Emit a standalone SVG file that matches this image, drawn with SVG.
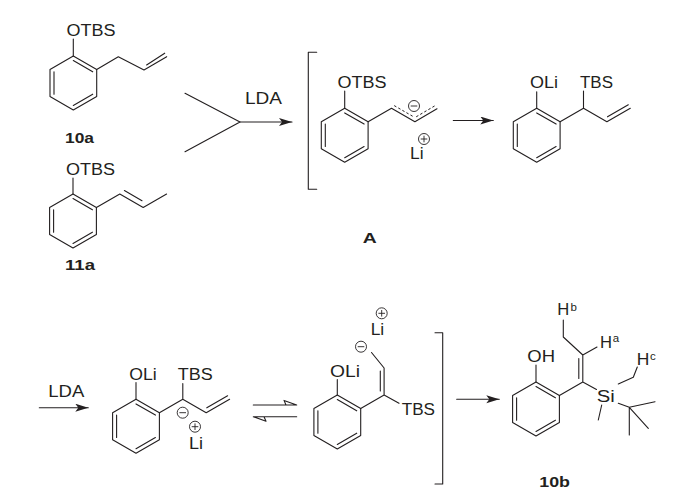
<svg xmlns="http://www.w3.org/2000/svg" xmlns:xlink="http://www.w3.org/1999/xlink" width="696" height="499" viewBox="0 0 696 499">
<style>
.b{fill:none;stroke:#231f20;stroke-width:1.1;stroke-linecap:round;stroke-linejoin:round}
.d{fill:none;stroke:#231f20;stroke-width:1;stroke-dasharray:2.5,2.2}
.t{font-family:"Liberation Sans",Arial,sans-serif;font-size:16px;fill:#231f20}
.s{font-family:"Liberation Sans",Arial,sans-serif;font-size:11.5px;fill:#231f20}
.l{font-family:"Liberation Sans",Arial,sans-serif;font-size:15px;font-weight:bold;fill:#231f20}
.c{fill:none;stroke:#231f20;stroke-width:0.9}
</style>
<defs>
<marker id="ah" markerUnits="userSpaceOnUse" markerWidth="14" markerHeight="9" refX="13" refY="4" orient="auto">
<path d="M0,0 L13,4 L0,8 L3,4 Z" fill="#231f20"/>
</marker>
<g id="neg"><circle class="c" r="5.5"/><line class="c" x1="-3.3" y1="0" x2="3.3" y2="0"/></g>
<g id="pos"><circle class="c" r="5.5"/><line class="c" x1="-3.3" y1="0" x2="3.3" y2="0"/><line class="c" x1="0" y1="-3.3" x2="0" y2="3.3"/></g>
</defs>
<rect width="696" height="499" fill="#fff"/>

<g id="m10a">
<path class="b" d="M73.3,56 L96.7,69.5 L96.7,96.5 L73.3,110 L50,96.5 L50,69.5 Z"/>
<path class="b" d="M73.3,60.6 L92.7,71.8 M92.7,94.2 L73.3,105.4 M54,94.2 L54,71.8"/>
<path class="b" d="M73.3,56 L73.3,39 M96.7,69.5 L118.3,56.7 L144,70 L166.7,56.7 M146.6,65 L164.7,53.2"/>
<text class="t" x="66.5" y="36" textLength="49" lengthAdjust="spacingAndGlyphs">OTBS</text>
<text class="l" x="65" y="143" textLength="29" lengthAdjust="spacingAndGlyphs">10a</text>
</g>

<g id="m11a">
<path class="b" d="M73,194 L96.4,207.5 L96.4,234.5 L73,248 L49.6,234.5 L49.6,207.5 Z"/>
<path class="b" d="M73,198.6 L92.4,209.8 M92.4,232.2 L73,243.4 M53.6,232.2 L53.6,209.8"/>
<path class="b" d="M73,194 L73,178 M96.4,207.5 L119.8,194 L143.2,207.5 L166.6,194 M124.4,190.5 L142,200.7"/>
<text class="t" x="66" y="175" textLength="49" lengthAdjust="spacingAndGlyphs">OTBS</text>
<text class="l" x="65" y="270" textLength="30" lengthAdjust="spacingAndGlyphs">11a</text>
</g>

<g id="intA">
<path class="b" d="M316.7,52.3 H308.3 V189.3 H316.7"/>
<path class="b" d="M344.7,108.3 L368.1,121.8 L368.1,148.8 L344.7,162.3 L321.3,148.8 L321.3,121.8 Z"/>
<path class="b" d="M344.7,112.9 L364.1,124.1 M364.1,146.5 L344.7,157.7 M325.3,146.5 L325.3,124.1"/>
<path class="b" d="M344.7,108.3 L344.7,91 M368.1,121.8 L391.5,108.3 L414.9,121.8 L437,108.8"/>
<path class="d" d="M394.2,105.6 L413.6,116.8 M416.2,116.8 L435.2,105.6"/>
<use xlink:href="#neg" href="#neg" x="414" y="106"/>
<use xlink:href="#pos" href="#pos" x="424" y="139"/>
<text class="t" x="337.5" y="88.3" textLength="49" lengthAdjust="spacingAndGlyphs">OTBS</text>
<text class="t" x="410" y="158.5" textLength="13.5" lengthAdjust="spacingAndGlyphs">Li</text>
<text class="l" x="362.7" y="243.3" font-size="16" textLength="14" lengthAdjust="spacingAndGlyphs">A</text>
</g>

<g id="p1">
<path class="b" d="M536.7,108.3 L560.1,121.8 L560.1,148.8 L536.7,162.3 L513.3,148.8 L513.3,121.8 Z"/>
<path class="b" d="M536.7,112.9 L556.1,124.1 M556.1,146.5 L536.7,157.7 M517.3,146.5 L517.3,124.1"/>
<path class="b" d="M536.7,108.3 L536.7,91.7 M560.1,121.8 L583.5,108.3 L583.5,91 M583.5,108.3 L606.9,121.8 L630.3,108.3 M607.5,116.8 L628.3,104.8"/>
<text class="t" x="530" y="88.3" textLength="28" lengthAdjust="spacingAndGlyphs">OLi</text>
<text class="t" x="580" y="88.3" textLength="33" lengthAdjust="spacingAndGlyphs">TBS</text>
</g>

<g id="p2">
<path class="b" d="M136,399.3 L159.4,412.8 L159.4,439.8 L136,453.3 L112.6,439.8 L112.6,412.8 Z"/>
<path class="b" d="M136,403.9 L155.4,415.1 M155.4,437.5 L136,448.7 M116.6,437.5 L116.6,415.1"/>
<path class="b" d="M136,399.3 L136,382.5 M159.4,412.8 L182.8,399.3 L182.8,383.5 M182.8,399.3 L206.2,412.8 L229.6,399.3 M206.8,407.8 L227.6,395.8"/>
<use xlink:href="#neg" href="#neg" x="182.7" y="412.7"/>
<use xlink:href="#pos" href="#pos" x="195" y="426.7"/>
<text class="t" x="129.3" y="380" textLength="27.4" lengthAdjust="spacingAndGlyphs">OLi</text>
<text class="t" x="177.7" y="380" textLength="35" lengthAdjust="spacingAndGlyphs">TBS</text>
<text class="t" x="189" y="449.3" textLength="14" lengthAdjust="spacingAndGlyphs">Li</text>
</g>

<g id="p3">
<path class="b" d="M337.3,395 L360.7,408.5 L360.7,435.5 L337.3,449 L313.9,435.5 L313.9,408.5 Z"/>
<path class="b" d="M337.3,399.6 L356.7,410.8 M356.7,433.2 L337.3,444.4 M317.9,433.2 L317.9,410.8"/>
<path class="b" d="M337.3,395 L337.3,379.5 M360.7,408.5 L384.1,395 L399,403.3 M384.1,395 L384.1,368 L371.5,352.5 M380.3,391 L380.3,371"/>
<use xlink:href="#neg" href="#neg" x="361" y="346.7"/>
<use xlink:href="#pos" href="#pos" x="381.7" y="313.3"/>
<text class="t" x="330" y="377.3" textLength="30" lengthAdjust="spacingAndGlyphs">OLi</text>
<text class="t" x="401.7" y="415" textLength="33.3" lengthAdjust="spacingAndGlyphs">TBS</text>
<text class="t" x="370.7" y="335" textLength="13.5" lengthAdjust="spacingAndGlyphs">Li</text>
<path class="b" d="M435,332.7 H442.7 V484 H435"/>
</g>

<g id="m10b">
<path class="b" d="M536,382 L559.4,395.5 L559.4,422.5 L536,436 L512.6,422.5 L512.6,395.5 Z"/>
<path class="b" d="M536,386.6 L555.4,397.8 M555.4,420.2 L536,431.4 M516.6,420.2 L516.6,397.8"/>
<path class="b" d="M536,382 L536,365 M559.4,395.5 L582.8,382 L582.8,355 L597,347 M582.8,355 L563.3,337 L563.3,320 M578.8,378.5 L578.8,358.5 M582.8,382 L596.5,389.5"/>
<path class="b" d="M618.3,384 L633.3,377.3 L637.3,367 M601.7,405 L598.3,420 M618.3,403.3 L629.3,407.3 L655,401.7 M629.3,407.3 L648.3,428.3 M629.3,407.3 L629.3,435"/>
<text class="t" x="527.3" y="361.7" textLength="27.7" lengthAdjust="spacingAndGlyphs">OH</text>
<text class="t" x="596.7" y="402" textLength="18" lengthAdjust="spacingAndGlyphs">Si</text>
<text class="t" x="600" y="348.3" textLength="12" lengthAdjust="spacingAndGlyphs">H</text>
<text class="s" x="612.7" y="342">a</text>
<text class="t" x="557.3" y="315" textLength="12" lengthAdjust="spacingAndGlyphs">H</text>
<text class="s" x="570.5" y="311">b</text>
<text class="t" x="636.7" y="365" textLength="12.6" lengthAdjust="spacingAndGlyphs">H</text>
<text class="s" x="650" y="359.5">c</text>
<text class="l" x="539.3" y="486.7" textLength="30.7" lengthAdjust="spacingAndGlyphs">10b</text>
</g>

<g id="connectors">
<path class="b" d="M185,93.3 L240,122 L185,151.7"/>
<line class="b" x1="240" y1="122" x2="292" y2="122" marker-end="url(#ah)"/>
<text class="t" x="245" y="104" textLength="37" lengthAdjust="spacingAndGlyphs">LDA</text>
<line class="b" x1="453.3" y1="120.5" x2="493.3" y2="120.5" marker-end="url(#ah)"/>
<line class="b" x1="39.3" y1="407.7" x2="88.3" y2="407.7" marker-end="url(#ah)"/>
<text class="t" x="48.3" y="397.3" textLength="36" lengthAdjust="spacingAndGlyphs">LDA</text>
<path class="b" d="M253.3,405 L296.7,405 M296.7,405 L284,400.4 L286,405 Z" fill="#231f20"/>
<path class="b" d="M296.7,416.7 L253.3,416.7 M253.3,416.7 L266,421.3 L264,416.7 Z" fill="#231f20"/>
<line class="b" x1="456.7" y1="399.3" x2="499.3" y2="399.3" marker-end="url(#ah)"/>
</g>
</svg>
